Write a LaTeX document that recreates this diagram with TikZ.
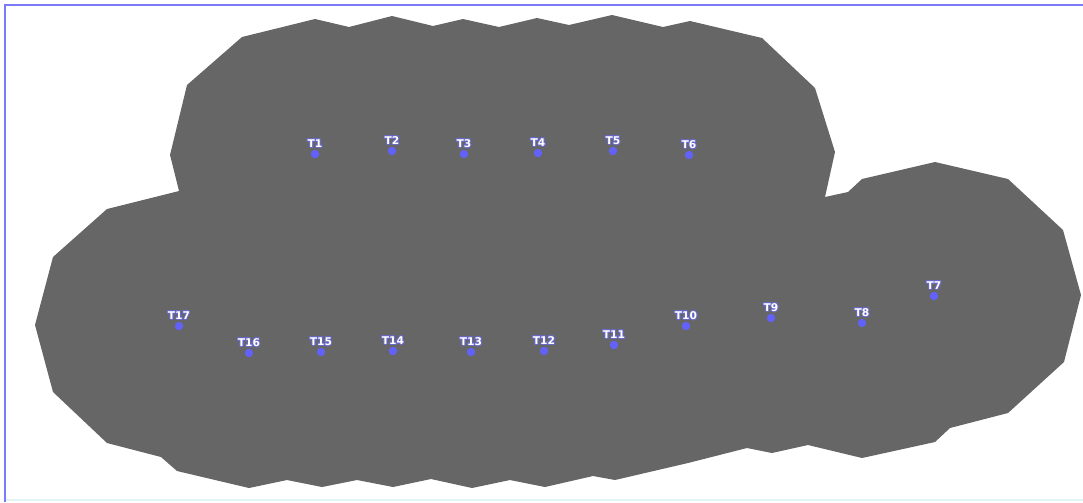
\documentclass[tikz,border=0pt]{standalone}
\usepackage{fontspec}
\usepackage{contour}
\usetikzlibrary{positioning}

\newfontfamily\stationfont{DejaVu Sans}
\contourlength{0.6pt}

\definecolor{frameblue}{RGB}{122,122,250}
\definecolor{regiongray}{RGB}{102,102,102}
\definecolor{dotblue}{RGB}{98,98,250}
\definecolor{rimblue}{RGB}{105,105,200}
\definecolor{faintcyan}{RGB}{225,245,248}

\begin{document}
\begin{tikzpicture}[
    x=0.025cm, y=-0.025cm,
    % --- Styles ---
    frame line/.style={draw=frameblue, line width=1.7pt},
    % Coverage area as one grey polygon
    coverage/.style={fill=regiongray, draw=none},
    station dot/.style={circle, fill=dotblue, inner sep=0pt, minimum size=0.21cm},
    station label/.style={font=\stationfont\bfseries\fontsize{7.6}{9}\selectfont,
        text=white, inner sep=0pt}
]

%================CANVAS================
\useasboundingbox (0,0) rectangle (1083,502);
\draw[faintcyan, line width=0.8pt] (5,500) -- (1083,500);
\draw[frame line] (5,502) -- (5,5) -- (1083,5);
%======================================

% Union of the coverage cells, traced clockwise from the upper left
\fill[coverage]
    (187,85) -- (242,37) -- (315,19) -- (349,27) -- (392,16) -- (433,26)
    -- (463,19) -- (499,27) -- (537,18) -- (569,25) -- (612,15) -- (663,27)
    -- (690,21) -- (762,38) -- (815,88) -- (835,152) -- (825,197)
    -- (848,192) -- (862,179) -- (935,162) -- (1008,179) -- (1063,230)
    -- (1081,295) -- (1064,362) -- (1008,413) -- (950,428) -- (935,442)
    -- (862,458) -- (808,445) -- (772,453) -- (747,448) -- (688,463)
    -- (615,480) -- (593,476) -- (545,487) -- (510,480) -- (472,488)
    -- (431,479) -- (393,487) -- (357,480) -- (322,487) -- (287,480)
    -- (249,488) -- (177,471) -- (161,457) -- (107,443) -- (53,392)
    -- (35,325) -- (53,257) -- (107,209) -- (179,191) -- (170,155)
    -- cycle;

% --- Stations: name / x / y ---
\foreach \name/\x/\y in {
    T1/315/154, T2/392/151, T3/464/154, T4/538/153, T5/613/151, T6/689/155,
    T7/934/296, T8/862/323, T9/771/318, T10/686/326, T11/614/345,
    T12/544/351, T13/471/352, T14/393/351, T15/321/352, T16/249/353,
    T17/179/326} {

    % Dot at the station position
    \node[station dot] (\name) at (\x,\y) {};

    % Name just above the dot
    \node[station label, above=0.6pt of \name] (\name-lab) {\contour{rimblue}{\name}};
}

\end{tikzpicture}
\end{document}
